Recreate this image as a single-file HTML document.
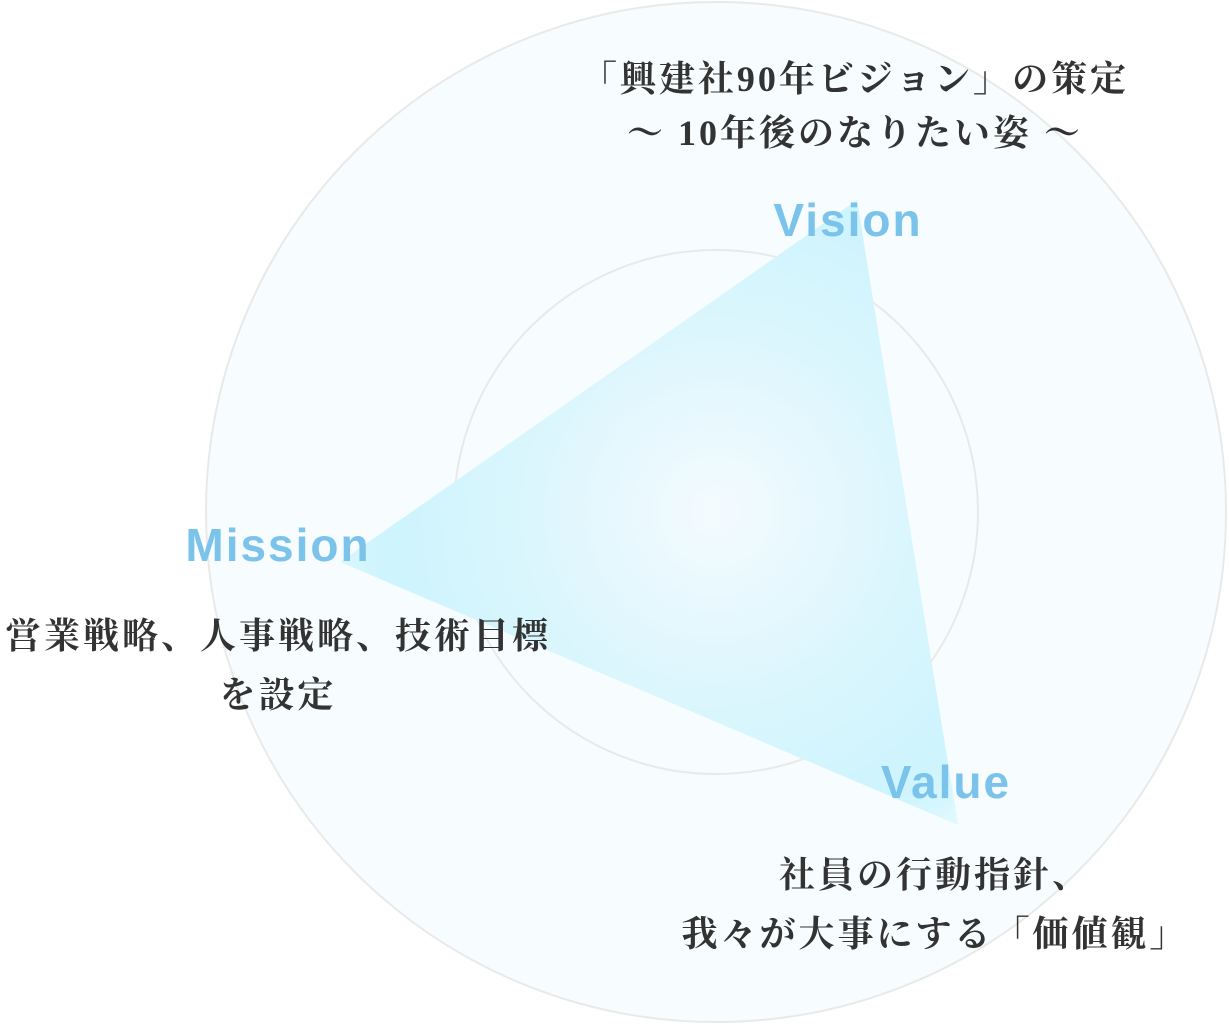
<!DOCTYPE html>
<html><head><meta charset="utf-8"><style>
html,body{margin:0;padding:0;background:#fff;}
svg{display:block}
.jp{font-family:"Liberation Serif","Noto Serif CJK SC",serif;font-weight:bold;font-size:36px;fill:#333;letter-spacing:3px}
.en{font-family:"Liberation Sans","DejaVu Sans",sans-serif;font-size:46px;font-weight:bold;fill:#7cc3ec;letter-spacing:2px}
</style></head><body>
<svg width="1229" height="1024" viewBox="0 0 1229 1024" xmlns="http://www.w3.org/2000/svg">
<defs>
<radialGradient id="g" cx="716" cy="512" r="330" gradientUnits="userSpaceOnUse">
<stop offset="0" stop-color="#f4fbfe"/>
<stop offset="0.55" stop-color="#dcf6fd"/>
<stop offset="1" stop-color="#cdf4fd"/>
</radialGradient>
<radialGradient id="g2" cx="716" cy="512" r="420" gradientUnits="userSpaceOnUse">
<stop offset="0.75" stop-color="#cdf4fd" stop-opacity="0"/>
<stop offset="1" stop-color="#fff" stop-opacity="0.8"/>
</radialGradient>
</defs>
<circle cx="716" cy="512" r="510" fill="#f7fdfe" stroke="#e9e9e9" stroke-width="2"/>
<circle cx="716" cy="512" r="262" fill="#f7fdfe" stroke="#e9e9e9" stroke-width="2"/>
<circle cx="716" cy="512" r="107" fill="none" stroke="#ebe7e7" stroke-width="2"/>
<polygon points="857,200 340,562 958,825" fill="url(#g)"/>
<polygon points="857,200 340,562 958,825" fill="url(#g2)"/>
<text class="jp" x="855" y="91" text-anchor="middle">「興建社90年ビジョン」の策定</text>
<text class="jp" x="855" y="145" text-anchor="middle">〜 10年後のなりたい姿 〜</text>
<text class="en" x="848" y="236" text-anchor="middle">Vision</text>
<text class="en" x="278" y="561" text-anchor="middle">Mission</text>
<text class="jp" x="278" y="648" text-anchor="middle">営業戦略、人事戦略、技術目標</text>
<text class="jp" x="278" y="707" text-anchor="middle">を設定</text>
<text class="en" x="946" y="798" text-anchor="middle">Value</text>
<text class="jp" x="935" y="887" text-anchor="middle">社員の行動指針、</text>
<text class="jp" x="935" y="946" text-anchor="middle">我々が大事にする「価値観」</text>
</svg>
</body></html>
